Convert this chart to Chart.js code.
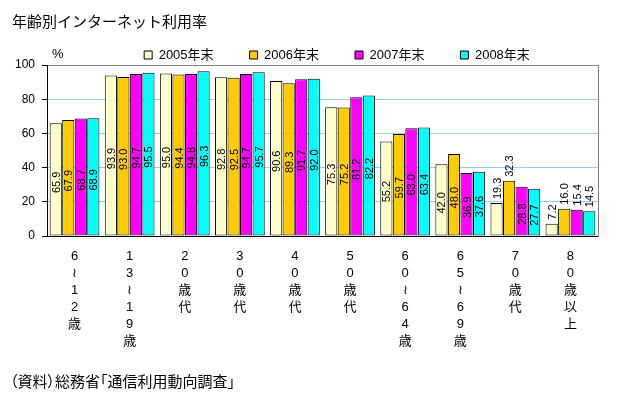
<!DOCTYPE html>
<html>
<head>
<meta charset="utf-8">
<script src="https://cdn.jsdelivr.net/npm/chart.js@4"></script>
<style>
body { margin: 0; background: #fff; }
#wrap { position: relative; width: 622px; height: 399px; font-family: "Liberation Sans", "Noto Sans CJK JP", sans-serif; }
#title { position: absolute; left: 12px; top: 14px; font-size: 15px; line-height: 15px; color: #000; }
#source { position: absolute; left: 10px; top: 374px; font-size: 15px; line-height: 15px; color: #000; font-feature-settings: "palt"; }
</style>
</head>
<body>
<div id="wrap">
  <canvas id="popChart" width="622" height="399"></canvas>
  <div id="title">年齢別インターネット利用率</div>
  <div id="source">（資料）総務省「通信利用動向調査」</div>
</div>
<script>
var categories = ['6～12歳', '13～19歳', '20歳代', '30歳代', '40歳代', '50歳代', '60～64歳', '65～69歳', '70歳代', '80歳以上'];
var seriesNames = ['2005年末', '2006年末', '2007年末', '2008年末'];
var y2005 = [65.9, 93.9, 95.0, 92.8, 90.6, 75.3, 55.2, 42.0, 19.3, 7.2];
var y2006 = [67.9, 93.0, 94.4, 92.5, 89.3, 75.2, 59.7, 48.0, 32.3, 16.0];
var y2007 = [68.7, 94.7, 94.8, 94.7, 91.7, 81.2, 63.0, 36.9, 28.8, 15.4];
var y2008 = [68.9, 95.5, 96.3, 95.7, 92.0, 82.2, 63.4, 37.6, 27.7, 14.5];
var yTicks = [0, 20, 40, 60, 80, 100];

var colors = ['#FFFFCC', '#FFCC00', '#FF00FF', '#00FFFF'];
// labels drawn above the bar instead of inside (dataset -> category indexes)
var outsideLabels = {0: [8, 9], 1: [8, 9], 2: [9], 3: [9]};
var numFont = '"Liberation Sans", "Noto Sans CJK JP", sans-serif';

// vertical labels: one character per line, the wave dash turned upright
var vertLabels = categories.map(function (c) {
    return c.split('').map(function (ch) { return ch === '～' ? '≀' : ch; });
});

var barLabels = {
    id: 'barLabels',
    afterLayout: function (chart) {
        // move legend to where the original has it
        var lg = chart.legend;
        var dx = 14.5;
        lg.left += dx; lg.right += dx;
        var hb = lg.legendHitBoxes[0];
        var pad = lg.options.labels.padding;
        var dy = 55 - (lg.top + pad + hb.height / 2);
        lg.top += dy; lg.bottom += dy;
    },
    afterDatasetsDraw: function (chart) {
        var ctx = chart.ctx;
        ctx.save();
        ctx.font = '11px ' + numFont;
        ctx.fillStyle = '#000';
        chart.data.datasets.forEach(function (ds, di) {
            var meta = chart.getDatasetMeta(di);
            meta.data.forEach(function (bar, i) {
                var txt = ds.data[i].toFixed(1);
                var outside = (outsideLabels[di] || []).indexOf(i) >= 0;
                ctx.save();
                if (outside) {
                    ctx.translate(bar.x, bar.y - 4);
                    ctx.rotate(-Math.PI / 2);
                    ctx.textAlign = 'left';
                } else {
                    ctx.translate(bar.x, (bar.y + bar.base) / 2 + 3);
                    ctx.rotate(-Math.PI / 2);
                    ctx.textAlign = 'center';
                }
                ctx.textBaseline = 'middle';
                ctx.fillText(txt, 0, 1);
                ctx.restore();
            });
        });
        // unit label
        ctx.font = '13px ' + numFont;
        ctx.textAlign = 'left';
        ctx.textBaseline = 'middle';
        ctx.fillText('%', chart.chartArea.left + 5, 54);
        ctx.restore();
    }
};

var popCanvas = document.getElementById('popChart');
var allData = [y2005, y2006, y2007, y2008];
var barChart = new Chart(popCanvas, {
    type: 'bar',
    data: {
        labels: vertLabels,
        datasets: allData.map(function (d, i) {
            return {
                label: seriesNames[i],
                data: d,
                backgroundColor: colors[i],
                borderColor: '#000',
                borderWidth: 1,
                borderSkipped: false,
                barPercentage: 0.97,
                categoryPercentage: 0.91
            };
        })
    },
    options: {
        responsive: false,
        animation: false,
        layout: { padding: { top: 6, left: 0, right: 0, bottom: 0 } },
        plugins: {
            legend: {
                position: 'top',
                fullSize: false,
                labels: {
                    boxWidth: 8,
                    boxHeight: 8,
                    padding: 36,
                    color: '#000',
                    font: { size: 13, family: numFont }
                }
            },
            tooltip: { enabled: false }
        },
        scales: {
            x: {
                grid: { display: false },
                border: { color: '#000' },
                ticks: {
                    color: '#000',
                    maxRotation: 0,
                    autoSkip: false,
                    padding: 4,
                    font: { size: 13, family: numFont, lineHeight: 1.3 }
                },
                afterFit: function (s) { s.height = 163; }
            },
            y: {
                min: 0,
                max: 100,
                afterBuildTicks: function (s) { s.ticks = yTicks.map(function (v) { return {value: v}; }); },
                grid: {
                    color: function (c) { return c.tick && c.tick.value === 100 ? '#808080' : '#99CCFF'; },
                    tickColor: '#000',
                    tickLength: 5
                },
                border: { color: '#000' },
                ticks: {
                    color: '#000',
                    padding: 7,
                    font: { size: 12, family: numFont }
                },
                afterFit: function (s) { s.width = 47; }
            },
            y2: {
                position: 'right',
                min: 0,
                max: 100,
                grid: { drawOnChartArea: false, drawTicks: false },
                border: { color: '#808080' },
                ticks: { display: false },
                afterFit: function (s) { s.width = 24; }
            }
        }
    },
    plugins: [barLabels]
});
</script>
</body>
</html>
